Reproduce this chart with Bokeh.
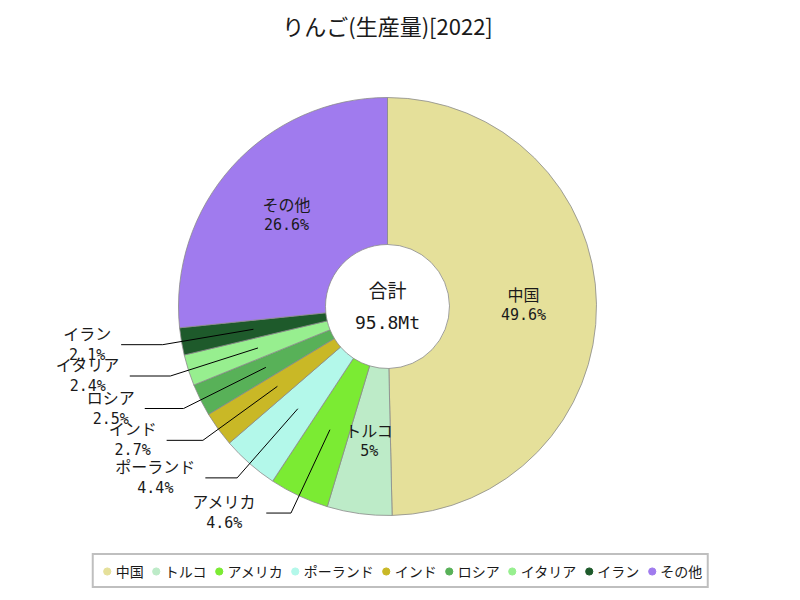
import math
from bokeh.plotting import figure
from bokeh.models import ColumnDataSource, Legend, LegendItem, Label
from bokeh.embed import file_html
from bokeh.resources import INLINE
from bokeh.core.properties import value

# ---------------- data ----------------
title_text = "りんご(生産量)[2022]"
countries = ["中国", "トルコ", "アメリカ", "ポーランド", "インド", "ロシア", "イタリア", "イラン", "その他"]
shares = [49.6, 5.0, 4.6, 4.4, 2.7, 2.5, 2.4, 2.1, 26.6]
pct_labels = ["49.6%", "5%", "4.6%", "4.4%", "2.7%", "2.5%", "2.4%", "2.1%", "26.6%"]
colors = ["#E5E09A", "#BDEBC8", "#7BEB33", "#B3F8EA", "#C9B826",
          "#58B158", "#97EF8F", "#1E5A2B", "#A07BEE"]
total_label = "合計"
total_value = "95.8Mt"

# ---------------- layout ----------------
W, H = 800, 600
CX, CY = 387, 294
R_OUT, R_IN = 209, 62
R_LAB, R_ELB = 136, 228
JP = "Noto Sans CJK JP"
MONO = "DejaVu Sans Mono"

total = sum(shares)
starts, ends, mids = [], [], []
c = 0.0
for s in shares:
    a0 = math.pi / 2 - 2 * math.pi * c
    c += s / total
    a1 = math.pi / 2 - 2 * math.pi * c
    starts.append(a0)
    ends.append(a1)
    mids.append((a0 + a1) / 2)

p = figure(width=W, height=H, x_range=(0, W), y_range=(0, H),
           x_axis_type=None, y_axis_type=None,
           output_backend="svg", toolbar_location=None, min_border=0)
p.grid.visible = False
p.outline_line_color = None
p.background_fill_color = "white"
p.border_fill_color = "white"

wsrc = ColumnDataSource(dict(start=starts, end=ends, color=colors, name=countries))
p.annular_wedge(x=CX, y=CY, inner_radius=R_IN, outer_radius=R_OUT,
                start_angle="start", end_angle="end", direction="clock",
                fill_color="color", line_color="#8a8a8a", line_width=0.8,
                source=wsrc)

# labels
in_x, in_y, in_n, in_p = [], [], [], []
lx, ly = [], []
on_x, on_y, on_t, op_x, op_y, op_t = [], [], [], [], [], []
for name, pct, s, a in zip(countries, pct_labels, shares, mids):
    ca, sa = math.cos(a), math.sin(a)
    if s >= 5:
        in_x.append(CX + R_LAB * ca)
        in_y.append(CY + R_LAB * sa)
        in_n.append(name)
        in_p.append(pct)
    else:
        x1, y1 = CX + R_LAB * ca, CY + R_LAB * sa
        x2, y2 = CX + R_ELB * ca, CY + R_ELB * sa
        x3 = x2 - (12 + 30 * abs(ca))
        lx.append([x1, x2, x3])
        ly.append([y1, y2, y2])
        on_x.append(x3 - 10)
        on_y.append(y2 + 12)
        on_t.append(name)
        op_x.append(x3 - 10 - 8 * len(name))
        op_y.append(y2 - 10)
        op_t.append(pct)

p.multi_line(xs=lx, ys=ly, line_color="black", line_width=1)

isrc = ColumnDataSource(dict(x=in_x, yn=[y + 11 for y in in_y], yp=[y - 10 for y in in_y], n=in_n, t=in_p))
p.text(x="x", y="yn", text="n", source=isrc, text_font=value(JP), text_font_size="16px",
       text_align="center", text_baseline="middle", text_color="#1a1a1a")
p.text(x="x", y="yp", text="t", source=isrc, text_font=value(MONO), text_font_size="15px",
       text_align="center", text_baseline="middle", text_color="#1a1a1a")

osrc = ColumnDataSource(dict(x=on_x, y=on_y, t=on_t))
p.text(x="x", y="y", text="t", source=osrc, text_font=value(JP), text_font_size="16px",
       text_align="right", text_baseline="middle", text_color="#1a1a1a")
psrc = ColumnDataSource(dict(x=op_x, y=op_y, t=op_t))
p.text(x="x", y="y", text="t", source=psrc, text_font=value(MONO), text_font_size="15px",
       text_align="center", text_baseline="middle", text_color="#1a1a1a")

# center
p.add_layout(Label(x=CX, y=CY + 17, text=total_label, text_align="center", text_baseline="middle",
                   text_font=JP, text_font_size="19px", text_color="#1a1a1a"))
p.add_layout(Label(x=CX, y=CY - 16, text=total_value, text_align="center", text_baseline="middle",
                   text_font=MONO, text_font_size="18px", text_color="#1a1a1a"))

# title
p.add_layout(Label(x=CX, y=H - 24, text=title_text, text_align="center", text_baseline="middle",
                   text_font=JP, text_font_size="22px", text_color="#1a1a1a"))

# legend
items = []
for name, col in zip(countries, colors):
    r = p.scatter(x=[float("nan")], y=[float("nan")], marker="circle",
                  fill_color=col, line_color=col)
    items.append(LegendItem(label=name, renderers=[r]))
legend = Legend(items=items, orientation="horizontal", location="bottom_center", margin=12,
                padding=4, spacing=3, glyph_width=18, glyph_height=18, label_standoff=0,
                label_height=23, label_text_font=JP, label_text_font_size="14px",
                label_text_color="#1a1a1a",
                border_line_color="#808080", border_line_width=2, background_fill_alpha=1)
p.add_layout(legend)

open("out.html", "w").write(file_html(p, INLINE))
